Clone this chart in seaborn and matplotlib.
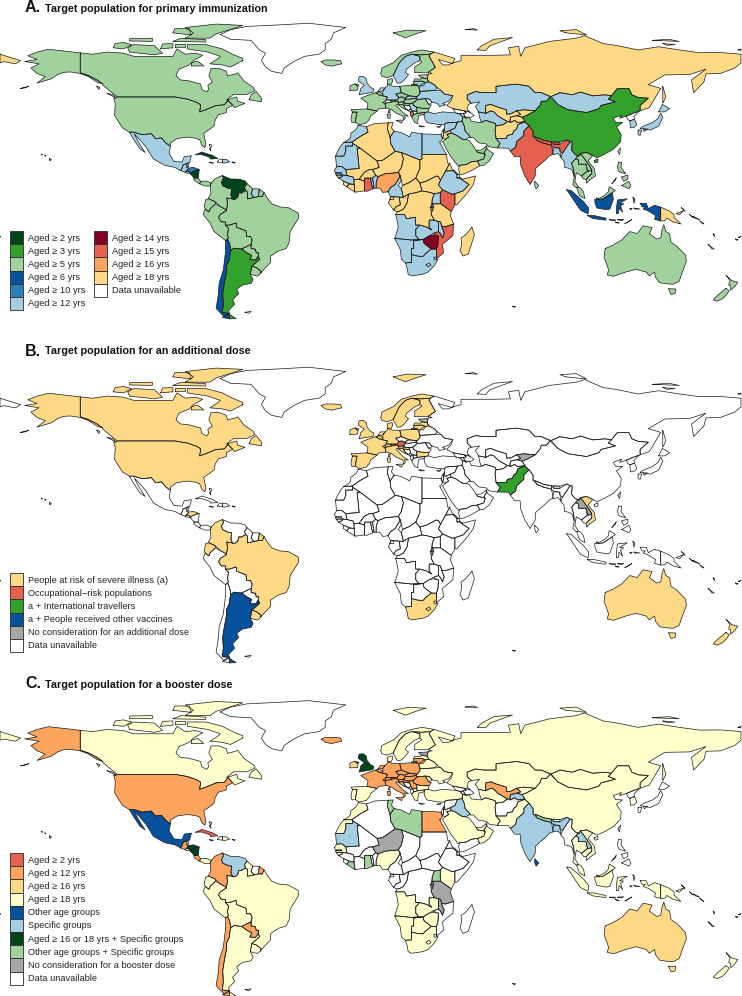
import matplotlib
matplotlib.use("Agg")
import matplotlib.pyplot as plt
from matplotlib.patches import Patch
import pandas as pd
import seaborn as sns

# country outlines, (lon, lat) rings, rough hand-read shapes
canada = [[(-141,69.6),(-135,69),(-128,70),(-120,69.5),(-115,68),(-108,68),(-102,68),(-96,68),(-94,71.5),(-90,69),(-85,69.5),(-81.5,68.5),(-86,66),(-88,64),(-93,62),(-94.5,59),(-92.5,57),(-88,56.5),(-82.5,55),(-82,52.5),(-79.5,51.3),(-78.7,52.5),(-79,54.5),(-76.8,56),(-78.5,58.8),(-77.5,62.3),(-73.5,62.3),(-70,61),(-69.5,58.8),(-65.5,59.8),(-64.5,60.3),(-61.5,56.5),(-57,53.5),(-56,52),(-60,50.2),(-66.5,50.2),(-70,47.5),(-65,49),(-64.5,47),(-61,46),(-66,44),(-67,45.2),(-69.2,47.4),(-71,45.3),(-75,45),(-79,43.4),(-83,42),(-82.5,45.3),(-84.5,46.5),(-89,48),(-95,49),(-123,49),(-125,50.5),(-130,54.5),(-130,55),(-133,57),(-137,59),(-141,60.3)],
    [(-62,66),(-68,63),(-72,64),(-78,64.5),(-74,67),(-73,68),(-79,70),(-89,71.5),(-89,73.5),(-80,73.5),(-72,71.5),(-67,69),(-62,67)],
    [(-117,70),(-105,68.7),(-101,69.5),(-105,73),(-115,73.5),(-118,72)],
    [(-125,72),(-120,71.5),(-116,73.5),(-120,74.5),(-124,74)],
    [(-90,76.5),(-78,76.5),(-75,78.5),(-65,81.5),(-62,82.5),(-75,83.1),(-90,81.5),(-86,79)],
    [(-96,75),(-80,74.7),(-80,75.8),(-92,76.5)],
    [(-96,79),(-87,78),(-88,81),(-95,81)],
    [(-117,75.2),(-106,75),(-106,76.5),(-117,76.3)],
    [(-102,71.5),(-96,72),(-96,74),(-101,73.8)],
    [(-95,72.5),(-90,72.5),(-90,74),(-95,74)],
    [(-87,63.5),(-81,63.5),(-84,65.8),(-87,65)],
    [(-59,47.7),(-53,46.7),(-53,48.5),(-55.5,51.5),(-58,50)],
    [(-128,50.7),(-123.5,48.4),(-125,50)],
    [(-133,54),(-131.5,53.5),(-132,52.5)]]
usa = [[(-124.7,48.4),(-123,49),(-95,49),(-89,48),(-84.5,46.5),(-82.5,45.3),(-83,42),(-79,43.4),(-75,45),(-71,45.3),(-69.2,47.4),(-67,45),(-70,43.5),(-70,41.7),(-74,40.6),(-75.5,38),(-76,35.5),(-78,33.9),(-81,32),(-80,27),(-80.5,25.2),(-82,26.5),(-83,29),(-85,29.7),(-89,30.2),(-94,29.5),(-97.2,27.5),(-97.2,25.9),(-99.5,27.5),(-101.5,29.8),(-104.5,29.5),(-106.5,31.8),(-111,31.3),(-114.8,32.5),(-117.1,32.5),(-120.5,34.5),(-122.5,37.5),(-124.3,40.3),(-124,46)],
    [(-141,69.6),(-148,70.4),(-156.5,71.3),(-162,70),(-166.5,68.3),(-162,66.5),(-168,65.6),(-161,64.5),(-165,62.5),(-162,60),(-158,58.5),(-162,55.5),(-155,57.5),(-152,59.5),(-149,60.5),(-146,60.7),(-141,60),(-137,58.5),(-133,56),(-130,55),(-133,57),(-137,59),(-141,60.3)],
    [(-156,20.2),(-155,19.7),(-155.7,19),(-156,19.5)],
    [(-158.2,21.6),(-157.7,21.3),(-158,21.2)],
    [(-160,22.2),(-159.3,22.1),(-159.6,21.8)],
    [(-170,53),(-166,54),(-168,53.2)]]
greenland = [[(-73,78.2),(-68,76),(-58,75.5),(-54,71),(-51,69.5),(-53,66),(-51,63),(-48,61),(-43,60),(-42,62.5),(-37,65.7),(-32,68),(-25,69),(-22,71),(-22,74),(-19,76),(-18,79),(-12,81.5),(-30,83.5),(-45,82.7),(-60,82),(-68,80.5)]]
iceland = [[(-24,65.5),(-22,64),(-19,63.4),(-14,64.5),(-14.5,66),(-18,66.3),(-22,66.3)]]
mexico = [[(-117.1,32.5),(-114.8,32.5),(-111,31.3),(-106.5,31.8),(-104.5,29.5),(-101.5,29.8),(-99.5,27.5),(-97.2,25.9),(-97.8,22.5),(-95.5,18.8),(-91.5,18.5),(-90.5,21),(-87,21.5),(-87.8,18.5),(-89.1,17.9),(-91,17.2),(-91.4,16),(-92.2,14.5),(-95,16),(-100,17),(-105.5,20),(-109,25.5),(-112.5,29.5),(-114.8,31.7),(-112.5,27.5),(-110.5,24.5),(-109.5,23),(-112,24.7),(-115,29)]]
guatemala = [[(-92.2,14.5),(-91.4,16),(-91,17.2),(-89.2,17.8),(-89.2,15.9),(-88.3,15.7),(-89.3,14.4),(-90.2,13.8)]]
belize = [[(-89.2,17.9),(-88.2,18.4),(-88.3,16.5),(-89.2,15.9)]]
el_salvador = [[(-90.1,13.8),(-89.3,14.4),(-87.8,13.9),(-87.8,13.2),(-89.5,13.4)]]
honduras = [[(-89.3,14.4),(-88.3,15.7),(-86,16),(-83.2,15),(-84.7,14.7),(-86.8,13.8),(-87.5,13),(-87.8,13.9)]]
nicaragua = [[(-87.5,13),(-86.8,13.8),(-84.7,14.7),(-83.2,15),(-83.7,11),(-85.7,11.1)]]
costa_rica = [[(-85.8,11),(-83.7,11),(-82.6,9.5),(-83,8.3),(-85.7,10)]]
panama = [[(-83,8.3),(-82.6,9.5),(-79.5,9.6),(-77.4,8.7),(-77.9,7.3),(-80.5,7.3)]]
cuba = [[(-85,21.9),(-82,23.2),(-77,21.7),(-74.2,20.2),(-77.7,19.9),(-78,20.7),(-82,22)]]
haiti = [[(-74.4,18.5),(-72,18.2),(-71.8,19.8),(-73.3,19.9)]]
dominican = [[(-71.8,19.8),(-72,18.2),(-71,18),(-68.4,18.6),(-69.9,19.7)]]
jamaica = [[(-78.3,18.4),(-76.3,18.2),(-76.8,17.8)]]
puerto_rico = [[(-67.2,18.5),(-65.7,18.4),(-66.2,17.9)]]
bahamas = [[(-78.3,26.8),(-77,26.5),(-77.7,25)],[(-78.2,25),(-77.7,24.2),(-77.5,23.8)]]
colombia = [[(-77.4,8.7),(-75.5,10.7),(-72,12.2),(-71.4,11),(-72.4,9),(-71.8,7.4),(-69,6.2),(-67.5,6),(-67.8,3),(-67,1.2),(-69.8,1.7),(-69.5,-1),(-70,-4.2),(-70.7,-3.5),(-73,-2.3),(-75.5,0),(-78.8,1.4),(-77.5,4),(-77.9,7.3)]]
venezuela = [[(-72,12.2),(-68,10.6),(-64,10.5),(-61,9.7),(-60,8.4),(-61.2,6.7),(-60.7,5.2),(-62.7,4),(-64,4.1),(-64.5,2),(-66,1),(-67,1.2),(-67.8,3),(-67.5,6),(-69,6.2),(-71.8,7.4),(-72.4,9),(-71.4,11)]]
guyana = [[(-60,8.4),(-57.2,6),(-58,3.5),(-56.5,1.9),(-59.8,1.3),(-59.8,4.5),(-60.7,5.2),(-61.2,6.7)]]
suriname = [[(-57.2,6),(-54,5.9),(-54.5,2.4),(-56.5,1.9),(-58,3.5)]]
fr_guiana = [[(-54,5.9),(-51.7,4.2),(-52.7,2.3),(-54.5,2.4)]]
brazil = [[(-51.7,4.2),(-50,1.5),(-48,-1),(-44,-2.5),(-40,-2.8),(-35.2,-5.3),(-34.8,-7.5),(-37,-11),(-39,-14),(-39.5,-19),(-41,-22),(-44.5,-23),(-48.5,-25.5),(-48.6,-28.5),(-52,-32),(-53.4,-33.7),(-53.2,-32.5),(-55.5,-30.9),(-57.6,-30.2),(-53.8,-27),(-54.6,-25.6),(-54.3,-24),(-55.5,-24),(-55.9,-22.3),(-58,-22),(-58,-20),(-57.5,-18),(-58.3,-16.3),(-60.2,-16.3),(-60.5,-13.7),(-65,-12),(-65.3,-10),(-68.5,-11),(-70.5,-11),(-70.5,-9.5),(-72.5,-9.5),(-73.8,-7.5),(-73,-6),(-70,-4.2),(-69.5,-1),(-69.8,1.7),(-67,1.2),(-66,1),(-64.5,2),(-64,4.1),(-62.7,4),(-60.7,5.2),(-59.8,4.5),(-59.8,1.3),(-56.5,1.9),(-54.5,2.4),(-52.7,2.3)]]
ecuador = [[(-80,0.8),(-78.8,1.4),(-75.5,0),(-75.3,-1),(-78,-3.5),(-78.5,-4.8),(-80.3,-3.5),(-80.8,-2)]]
peru = [[(-80.3,-3.5),(-78.5,-4.8),(-78,-3.5),(-75.3,-1),(-73,-2.3),(-70.7,-3.5),(-70,-4.2),(-73,-6),(-73.8,-7.5),(-72.5,-9.5),(-70.5,-9.5),(-70.6,-11),(-69,-12.5),(-69.5,-15.5),(-69,-17),(-69.5,-17.5),(-70.4,-18.3),(-76,-14),(-78,-10),(-81.3,-6)]]
bolivia = [[(-69.5,-15.5),(-69,-12.5),(-70.5,-11),(-68.5,-11),(-65.3,-10),(-65,-12),(-60.5,-13.7),(-60.2,-16.3),(-58.3,-16.3),(-57.5,-18),(-58,-20),(-62.6,-22.2),(-64.5,-22),(-66.3,-21.8),(-67.8,-22.8),(-68.5,-19.5),(-69.5,-17.5),(-69,-17)]]
paraguay = [[(-58,-20),(-58,-22),(-55.9,-22.3),(-55.5,-24),(-54.3,-24),(-54.6,-25.6),(-55.8,-27.3),(-58.6,-27.2),(-57.7,-25.2),(-60,-24),(-62.6,-22.2)]]
uruguay = [[(-57.6,-30.2),(-55.5,-30.9),(-53.2,-32.5),(-53.4,-33.7),(-55,-34.9),(-58.4,-34),(-58,-32)]]
argentina = [[(-66.3,-21.8),(-64.5,-22),(-62.6,-22.2),(-60,-24),(-57.7,-25.2),(-58.6,-27.2),(-55.8,-27.3),(-54.6,-25.6),(-53.8,-27),(-57.6,-30.2),(-58,-32),(-58.4,-34),(-57,-36.5),(-58,-38.3),(-62,-39),(-65,-41),(-64,-43),(-67,-46),(-66,-48),(-69,-51),(-68.5,-52.3),(-72,-52),(-71.5,-48),(-71.8,-43),(-71,-38),(-70,-33),(-70,-30),(-68.5,-27),(-68.3,-24.5),(-67.8,-22.8)],
    [(-68.6,-52.7),(-65.3,-54.8),(-68.6,-54.9)]]
chile = [[(-69.5,-17.5),(-68.5,-19.5),(-67.8,-22.8),(-68.3,-24.5),(-68.5,-27),(-70,-30),(-70,-33),(-71,-38),(-71.8,-43),(-71.5,-48),(-72,-52),(-68.5,-52.3),(-71,-54),(-75,-50),(-74,-44),(-73.5,-38),(-71.5,-32),(-70.5,-24),(-70.4,-18.3)],
    [(-68.6,-52.7),(-68.6,-54.9),(-72,-54.2),(-70,-53)]]
falklands = [[(-61,-51.8),(-58,-51.4),(-59,-52.3)]]
uk = [[(-5.5,50.1),(1.2,51.2),(1.7,52.7),(0,53.5),(-1.7,55.5),(-2,57.5),(-3.5,58.6),(-5.5,58.5),(-6,56.5),(-3,54.5),(-4.8,52.8),(-5,51.7)],
    [(-7.5,55),(-5.6,54.6),(-6.3,54)]]
ireland = [[(-10,52),(-6.3,52.2),(-6,53.8),(-7.5,55.2),(-10,54.2)]]
france = [[(-1.7,43.4),(3.2,42.4),(4,43.4),(7.5,43.7),(7,46),(8.2,49),(4.2,50),(2.5,51),(-1.5,49.7),(-4.7,48.4),(-1.2,46)],
    [(8.7,41.9),(9.5,41.5),(9.5,43),(8.7,42.5)]]
spain = [[(-9.3,43),(-1.7,43.4),(3.2,42.4),(0,40),(-0.5,38.5),(-2,36.8),(-5.5,36),(-7.4,37.2),(-7,39.5),(-6.5,41.9),(-8.8,41.9)]]
portugal = [[(-8.8,41.9),(-6.5,41.9),(-7,39.5),(-7.4,37.2),(-9,37),(-9.5,38.8)]]
belgium = [[(2.5,51),(4.2,51.4),(6,50.5),(5.8,49.5),(4.2,50)]]
netherlands = [[(3.5,51.4),(6,51.8),(7.1,53.2),(5,53.3)]]
germany = [[(6,50.5),(6,51.8),(7.1,53.2),(8.8,54.8),(11,54),(14.2,54),(15,51),(12.3,50.3),(13.8,48.7),(13,47.5),(7.6,47.6),(8.2,49),(6,49.5)]]
denmark = [[(8.2,55),(10,54.9),(10.8,56.3),(10.5,57.7),(8.2,57)]]
switzerland = [[(6,46.3),(7,46),(10.4,46.7),(9.6,47.5),(7.6,47.6)]]
austria = [[(9.6,47.5),(10.4,46.9),(12.3,47),(14,46.5),(16.2,46.9),(17,48),(15,49),(13.8,48.7),(13,47.6)]]
italy = [[(7,46),(7.5,43.9),(10.3,43),(12.5,41.4),(15.8,40),(16,38),(17,39),(16.5,40.2),(18.4,40),(16,41.5),(13.5,44),(12.4,45.3),(13.7,45.6),(13.7,46.5),(12.3,47),(10.4,46.7)],
    [(12.5,38),(15.5,38.2),(15.2,36.7)],
    [(8.2,41),(9.7,41),(9.5,39),(8.5,39)]]
poland = [[(14.2,54),(19,54.4),(23,54.3),(24,52),(24,50.5),(22.6,49.1),(19,49.4),(15,51)]]
czechia = [[(12.3,50.3),(15,51),(18.8,49.6),(17,48.7),(15,49),(13.8,48.7)]]
slovakia = [[(17,48),(17,48.7),(18.8,49.6),(22.6,49.1),(22,48.4),(18.8,47.9)]]
hungary = [[(16.2,46.9),(17,48),(18.8,47.9),(22,48.4),(22.9,47.9),(21,46.2),(18.8,45.9),(17,46)]]
slovenia = [[(13.7,45.6),(15.5,45.6),(16.4,46.6),(14,46.5),(13.7,46.5)]]
croatia = [[(13.7,45.2),(15.5,43.8),(18.4,42.6),(17,43.5),(15.9,45.2),(19,45),(18.8,45.9),(17,46),(15.5,45.6)]]
bosnia = [[(15.9,45.2),(17,43.5),(18.4,42.6),(19.5,43.5),(19,45)]]
serbia = [[(19,45),(19.5,43.5),(20,42.7),(22.5,42.3),(22.5,44.2),(21,45),(20.3,46.1),(18.8,45.9)]]
montenegro = [[(18.5,42.5),(19.3,41.9),(20,42.7),(19.5,43.5)]]
albania = [[(19.3,41.9),(20.5,42.2),(21,40.8),(20,39.7),(19.4,40.5)]]
macedonia = [[(20.5,42.2),(22.5,42.3),(22.8,41.3),(21,40.8)]]
greece = [[(21,40.8),(22.8,41.3),(26.3,41.7),(26,40.8),(23.5,40.3),(23,38),(23,36.5),(21.5,37),(20,39.7)],
    [(23.5,35.5),(26.3,35.2),(24.7,34.9)]]
bulgaria = [[(22.5,42.3),(22.8,41.3),(26.3,41.7),(28,42),(28.5,43.6),(25,43.7),(22.5,44.2)]]
romania = [[(20.3,46.1),(21,45),(22.5,44.2),(25,43.7),(28.5,43.7),(29.6,45.2),(28.2,45.5),(26.6,48.2),(24,47.9),(22.9,47.9)]]
moldova = [[(26.6,48.2),(28.2,45.5),(30,46.4),(28.5,48)]]
ukraine = [[(22,48.4),(22.6,49.1),(24,50.5),(24,51.6),(31,52),(34,52.2),(36,50.3),(40,49.6),(38,47),(35,46),(36.5,45.3),(33.5,44.5),(32.5,46),(30,46.4),(28.5,48),(26.6,48.2),(24,47.9),(22.9,47.9)]]
belarus = [[(24,52),(23.5,53.9),(26,55.7),(28.5,56),(31,54.7),(32.5,53.2),(31,52),(24,51.6)]]
lithuania = [[(21,55.3),(21,56.3),(25,56.4),(26.8,55.7),(25.7,54.2),(23.5,54),(22.8,54.4)]]
latvia = [[(21,56.3),(21.5,57.5),(24.3,57.3),(25,58),(27.5,57.5),(28.2,56.2),(26.8,55.7),(25,56.4)]]
estonia = [[(23.5,59.2),(28,59.5),(27.5,57.5),(25,58),(24.3,58.2)]]
norway = [[(5,60),(5.5,62.5),(11,65),(15,68.5),(20,70),(25,71),(31,70),(29,69),(25,68.7),(20,69),(17,68),(14,65),(12,61),(11,59),(8,58),(5.5,58.7)],
    [(11,79),(17,76.7),(22,78.5),(27,80),(18,80.3)]]
sweden = [[(11,59),(12,61),(14,65),(17,68),(20,69),(24,68),(24,66),(21.5,65),(17.5,62),(17,60.5),(18.5,59.5),(16.5,57),(14.5,55.5),(13,55.5)]]
finland = [[(21.5,60.5),(21.5,63),(25,65.3),(24,66),(24,68),(20.5,69),(25,68.7),(29,69),(28.5,68),(30,65.5),(31.5,62.8),(28,60.5)]]
russia = [[(28,59.7),(30,60),(28,60.5),(31.5,62.8),(30,65.5),(28.5,68),(29,69),(31,70),(41,67),(40,64.6),(33,66.5),(35,64),(38,64),(40,65),(44,66),(44,68.5),(54,68.5),(60,68.5),(68,68.7),(67,72),(72,72.7),(73,68),(75,72),(81,73.5),(87,75),(100,76.5),(104,77.7),(113,74),(120,73),(130,71),(140,72.5),(150,71),(160,69.7),(170,69.8),(180,69),(180,65),(177,62.5),(170,60),(163,59.8),(162,56),(157,51),(156,57),(163,62),(155,59.5),(143,59.3),(135,54.7),(141,53),(135.5,44),(131,42.5),(131,45),(135,48.4),(130,48.8),(127,50),(125.5,53),(120,53),(117,49.5),(114,50),(108,49.5),(102,51.3),(98,50),(92,51),(87.8,49.2),(83,51),(80,51),(77,54),(71,55),(61,54),(61,51),(55,51),(51,51.5),(47,50),(47,48),(49,46),(47.5,45.5),(47,43),(48.5,41.8),(45.5,42.5),(40,43.5),(37,45),(39,47),(40,49.6),(36,50.3),(34,52.2),(32.5,53.2),(31,54.7),(28.5,56),(27.5,57.5)],
    [(-180,69),(-175,67.5),(-170,66),(-172.5,64.5),(-178,65.5),(-180,65)],
    [(52,71),(56,70.8),(58,73),(69,76.8),(60,76),(54,73)],
    [(46,80.5),(52,80.3),(50,81)],
    [(95,79),(105,78),(100,80.5),(92,80)],
    [(137,75.5),(150,75),(145,76)],
    [(142,74),(148,73.5),(144,73.2)],
    [(142,54),(143.5,49),(142,46),(142,50)],
    [(178.5,71),(180,71.5),(180,70.8)],
    [(20,54.8),(22.8,55),(22.5,54.4),(19.8,54.4)]]
kazakhstan = [[(47,50),(51,51.5),(55,51),(61,51),(61,54),(71,55),(77,54),(80,51),(83,51),(87.3,49),(85.5,47),(83,47),(82.5,45.3),(80,42.5),(74.5,43),(71,42.5),(68,41),(66,41),(66,43),(61,44.5),(58.5,45.5),(56,45),(56,41.3),(52.5,42),(51,44.5),(53,46.7),(49,46),(47,48)]]
turkmenistan = [[(52.5,42),(56,41.3),(58.5,42.5),(60,42),(62,40),(66.5,37.5),(64.5,36),(61,35.5),(60.5,36.7),(56,38),(53.8,37.2),(53,39.5)]]
uzbekistan = [[(56,41.3),(56,45),(58.5,45.5),(61,44.5),(66,43),(66,41),(68,41),(71,42.5),(73,40.8),(71,40.2),(68,39.5),(67.5,37.3),(66.5,37.5),(62,40),(60,42),(58.5,42.5)]]
kyrgyzstan = [[(71,42.5),(74.5,43),(80,42.5),(76,40.4),(73.7,39.5),(71,40.2),(73,40.8)]]
tajikistan = [[(68,39.5),(71,40.2),(73.7,39.5),(75,37.5),(71.5,37),(70,38),(68,37)]]
afghanistan = [[(61,35.5),(64.5,36),(66.5,37.5),(68,37),(70,38),(71.5,37),(75,37.3),(71.5,36),(71,34),(69.5,33),(69,31.5),(66.5,31),(66,29.5),(61,29.5),(60.8,31.5),(60.5,33.5)]]
pakistan = [[(61,29.5),(66,29.5),(66.5,31),(69,31.5),(69.5,33),(71,34),(71.5,36),(75,37.3),(77,35.5),(74.5,33),(74.5,31),(71,28),(70.5,25.5),(68,23.7),(67,25),(61.6,25.1),(63,27.2)]]
india = [[(68,23.7),(70.5,25.5),(71,28),(74.5,31),(74.5,33),(77,35.5),(79,33),(79,30.5),(81,28.5),(84,27.5),(88,26.4),(88,28),(89,26.8),(92,26.8),(95.5,28.9),(97,28),(94.5,24.5),(93.2,22.5),(92,24),(92,25),(89,25.2),(88.5,22),(87,21.5),(85,19.5),(80.2,15.5),(80,12),(77.5,8),(75,12),(73,17),(72.7,21),(70,21),(69,22.3)]]
nepal = [[(80,30.3),(81,30),(84,28.7),(88,28),(88,26.4),(84,27.3),(81,28.6)]]
bhutan = [[(89,27),(89,28),(92,27.8),(92,26.8)]]
bangladesh = [[(88,26.2),(89,25.5),(92,25),(92,24),(92.5,21),(91,22.5),(88.8,22)]]
sri_lanka = [[(79.8,9.5),(81.8,7.5),(80.5,6),(79.8,7.5)]]
china = [[(73.7,39.5),(76,40.4),(80,42.5),(82.5,45.3),(83,47),(85.5,47),(87.3,49),(91,45.5),(96,43),(105,41.7),(111,43.5),(112,45),(119,46.7),(115.5,48),(117,49.5),(120,53),(125.5,53),(127,50),(130,48.8),(135,48.4),(131,45),(131,42.5),(128,41.5),(124.3,40),(121,39),(122,40.5),(118,39),(119,37.2),(122.5,37),(119.5,35),(121.8,31.5),(121.5,28),(118,24.5),(114,22.3),(110,20.5),(108,21.6),(105,23),(102,22.5),(101.5,21.2),(99.5,22),(97.7,24),(98,28),(97,28),(95.5,28.9),(92,27.8),(89,28),(88,28),(84,28.7),(81,30),(79,30.5),(79,33),(77,35.5),(75,37.3),(75,37.5)],
    [(108.7,19.3),(110.5,20),(110.5,18.5),(109,18.2)]]
taiwan = [[(120.2,23.5),(121.5,25.2),(121,22)]]
mongolia = [[(87.8,49.2),(92,51),(98,50),(102,51.3),(108,49.5),(114,50),(117,49.5),(115.5,48),(119,46.7),(112,45),(111,43.5),(105,41.7),(96,43),(91,45.5)]]
north_korea = [[(124.3,40),(128,41.5),(130.6,42.4),(128,39.8),(128.3,38.6),(126,37.8),(125,38.5)]]
south_korea = [[(126,37.8),(128.3,38.6),(129.4,36),(128,34.7),(126.3,34.5)]]
japan = [[(131,34.3),(136,33.5),(140,35.3),(142,39.5),(141,41.4),(139.8,39),(137,37),(133,35.5)],
    [(140,42),(141.8,45.5),(145.3,43.5),(143,42)],
    [(130,33.5),(131.8,33.5),(131,31),(130,31.3)],
    [(132.5,34),(134.7,34),(133,32.9)]]
myanmar = [[(92.5,20.5),(93.2,22.5),(94.5,24.5),(97,28),(98,28),(97.7,24),(99.5,22),(101,21.5),(99.5,20),(97.7,18),(98.7,15),(99,11.5),(97.8,15),(95.5,15.8),(94.3,16),(94,19)]]
thailand = [[(98.7,15),(97.7,18),(99.5,20),(101,19.5),(101,17.5),(104.7,17.5),(105.5,14.5),(102.5,12),(101,13),(100,13.5),(99.3,9.5),(101,6.8),(100,6.5),(98.3,8),(99,11.5)]]
laos = [[(101,21.5),(102,22.5),(104,20),(106.5,16.5),(107.5,15),(105.5,14),(105,15.5),(104.7,17.5),(101,17.5),(101,19.5),(99.8,20.5)]]
vietnam = [[(102,22.5),(105,23),(108,21.6),(105.7,19),(108.7,15.5),(109.3,12),(106.7,10.3),(105,8.6),(104.8,10.4),(106,11.7),(107.5,13),(107.5,15),(106.5,16.5),(104,20)]]
cambodia = [[(102.5,12),(105.5,14.3),(107.5,14.5),(107.5,13),(106,11.7),(104.8,10.4),(103.5,10.6)]]
malaysia = [[(100.2,6.5),(101,6.8),(102.2,6.2),(103.5,4.5),(104.2,1.4),(101.5,2.8)],
    [(109.7,1.7),(111,1.5),(114,3),(115.5,4.5),(116,7),(119,5.2),(117.5,4.2),(115,2.5),(113,1.3),(111,1)]]
indonesia = [[(95.3,5.6),(97.5,5.2),(103.5,0),(106,-3),(105.7,-5.8),(102,-4),(98.5,1)],
    [(105.3,-6.5),(108.5,-6.5),(114.5,-7.8),(114.3,-8.7),(108,-7.9)],
    [(109,1),(111,1),(113,1.3),(115,2.5),(117.5,4.2),(118,1),(116.3,-3.5),(114.5,-3.8),(110,-3),(109,-0.5)],
    [(119.5,-5.5),(119.5,-3),(120,0.8),(124.8,1.3),(121,-0.8),(123,-1),(121.5,-2),(122.5,-5),(120.8,-3),(120.5,-5.5)],
    [(131,-0.8),(134,-0.8),(135,-3.3),(138,-1.7),(141,-2.6),(141,-9.1),(138,-8.3),(138.5,-6.5),(135,-4.4),(132.5,-3.5),(133.5,-2.5),(132,-2.5)],
    [(116,-8.5),(119,-8.5),(119,-9)],
    [(120,-8.5),(123,-8.3),(122,-8.9)],
    [(119,-9.6),(120.8,-10),(119.5,-10)],
    [(123.6,-10.3),(127,-8.4),(125,-9.6)],
    [(128,-3),(131,-3.5),(128.5,-3.5)],
    [(127.5,2),(128.5,1),(128,-0.8),(127.8,0.5)],
    [(126,-3.2),(127.2,-3.3),(126.5,-3.8)]]
png = [[(141,-2.6),(145,-4.3),(147.5,-6),(147.5,-7.5),(150.8,-10.5),(147,-9.5),(144,-7.7),(143,-9),(141,-9.1)],
    [(148.5,-5.6),(152.2,-4.2),(150,-6.2)],
    [(151,-2.8),(152.8,-4.5),(152,-3.5)]]
philippines = [[(120.5,18.5),(122,18.4),(121.7,16),(124,13),(120.7,14),(120,16)],
    [(122,7.5),(125.5,9.5),(126.5,7.5),(125.5,6),(124,6.7)],
    [(122,11.5),(125,12.5),(125,10.5),(123,9.5)],
    [(117.3,8.5),(119.5,11.3),(119,10)]]
australia = [[(114,-22),(113.5,-26),(115.7,-32),(115,-34.3),(118,-35),(124,-33),(129,-31.7),(134,-33),(135.5,-34.8),(138,-33),(138.5,-35.5),(140.5,-38),(144,-38.5),(147,-38.7),(150,-37.3),(151.5,-33),(153.5,-28),(153,-25),(149,-21),(146,-19),(145.3,-15),(143.5,-14),(142.5,-10.8),(141.7,-13),(141,-17),(139,-17.5),(135.5,-15),(136.8,-12.2),(132.5,-11.3),(129.5,-15),(126,-14),(122,-18),(118,-20.3)],
    [(144.8,-40.8),(148.3,-40.9),(148,-43),(146,-43.5)]]
new_zealand = [[(172.8,-34.5),(175.5,-37),(178.5,-37.7),(176.8,-40),(175,-41.5),(175,-39.5),(174,-39),(174.7,-37)],
    [(172.7,-40.6),(174.3,-41.7),(172.8,-43.8),(171,-45.5),(168.5,-46.6),(166.5,-46),(168.5,-44)]]
solomon = [[(155,-6),(157,-7.5),(156,-7)],[(157,-7),(160,-8.5),(158,-8)],[(160,-9),(162,-10.5),(161,-10)]]
vanuatu = [[(166.5,-15),(167.2,-15.6),(167,-16.5)]]
new_caledonia = [[(164,-20),(167,-22.3),(166,-22.2)]]
fiji = [[(177.3,-17.5),(178.6,-17.7),(178,-18.2)],[(178.8,-16.7),(180,-16.2),(179.3,-16.8)],[(-180,-16.2),(-179.6,-16.4),(-180,-16.6)]]
kerguelen = [[(69,-49),(70.5,-49),(70,-49.6)]]
madagascar = [[(49.3,-12),(50.5,-15.5),(47.5,-24.5),(45,-25.5),(43.5,-23),(44.3,-20),(44,-17),(46,-15.8),(48,-13.5)]]
turkey = [[(26,40.2),(26.3,41.7),(28,42),(31,41.2),(35,42),(41.5,41.5),(43.5,41),(44.8,39.7),(44.5,37.7),(42.3,37.2),(36.7,36.8),(36,36),(32.5,36.1),(30.5,36.5),(27.5,37),(26.5,38.5)]]
syria = [[(36,36),(36.7,36.8),(42.3,37.2),(41,34.4),(38.8,33.4),(36.5,32.4),(35.8,33.5)]]
lebanon = [[(35.1,33.1),(36,34.5),(35.8,33.5),(35.9,33.3)]]
israel = [[(34.3,31.3),(35.1,33.1),(35.6,33),(35.5,31),(35,29.5)]]
jordan = [[(35,29.5),(35.5,31),(35.6,32.6),(36.5,32.4),(38.8,33.4),(39.2,32),(37,31.5),(38,30.3),(36.5,29.3)]]
iraq = [[(38.8,33.4),(41,34.4),(42.3,37.2),(44.5,37.7),(45.5,35.5),(46,33),(48,31),(48.5,30),(47.7,30),(46.5,29.1),(44.7,29.2),(41,31.5),(39.2,32)]]
iran = [[(44.5,37.7),(44.8,39.7),(48,39.5),(49,37.5),(53.8,37),(56,38),(60.5,36.7),(61,35.5),(60.5,33.5),(60.8,31.5),(61,29.5),(63,27.2),(61.6,25.1),(57.5,25.7),(56.3,27),(52.5,27.5),(50,30),(48.5,30),(48,31),(46,33),(45.5,35.5)]]
saudi = [[(36.5,29.3),(38,30.3),(37,31.5),(39.2,32),(41,31.5),(44.7,29.2),(46.5,29.1),(48,28.5),(50,26),(50.8,24.8),(52,23),(55,22.5),(55.7,22),(55,20),(52,19),(49,18.6),(46.5,17.3),(43.3,17),(42.7,16.5),(39,21),(37,24.5),(35,28)]]
yemen = [[(43.3,17),(46.5,17.3),(49,18.6),(52,19),(53,16.7),(48,14),(45,12.8),(43.5,12.7),(42.8,15)]]
oman = [[(52,19),(55,20),(55.7,22),(55.2,23),(56.3,24.8),(56.4,26.3),(56.7,24.5),(59.8,22.5),(57.7,19),(55,17),(53,16.7)]]
uae = [[(51.5,24),(52,23),(55,22.5),(55.7,22),(55.2,23),(56.3,24.8),(56.2,26),(54,24.2)]]
georgia = [[(40,43.5),(45.5,42.5),(46.5,41.5),(43.5,41),(41.5,41.5)]]
armenia = [[(43.5,41),(45,41.2),(46.5,39),(44.8,39.7)]]
azerbaijan = [[(45,41.2),(46.5,41.5),(45.5,42.5),(48.5,41.8),(50.3,40.3),(49,39.5),(48,39.5),(46.5,39)]]
cyprus = [[(32.3,35),(34.5,35.6),(33.5,34.7)]]
morocco = [[(-5.9,35.8),(-2,35.1),(-1.2,32.5),(-5,30.5),(-8.7,28),(-13,27.7),(-11,28.8),(-9.7,30),(-9.5,32),(-7,33.8)]]
w_sahara = [[(-13,27.7),(-8.7,27.7),(-8.7,26),(-12,26),(-12,23.4),(-13,21.3),(-17,21.3),(-16,23.5),(-14.5,26)]]
algeria = [[(-2,35.1),(2,36.5),(8.6,36.9),(8.2,34),(9.5,30.2),(9.9,27),(12,23.5),(6,19.4),(3.2,19),(-5,25),(-8.7,27.3),(-8.7,28),(-5,30.5),(-1.2,32.5)]]
tunisia = [[(8.6,36.9),(11,37),(10.2,34.5),(11.5,33),(9.5,30.2),(8.2,34)]]
libya = [[(11.5,33),(15,32.3),(19,30.3),(20,32.5),(25,31.7),(25,20),(24,19.5),(15,23),(12,23.5),(9.9,27),(9.5,30.2)]]
egypt = [[(25,31.7),(31,31.5),(34.3,31.3),(35,29.5),(34,27.8),(33.5,28),(36.9,22),(25,22)]]
mauritania = [[(-17,21.3),(-13,21.3),(-12,23.4),(-12,26),(-8.7,26),(-8.7,27.3),(-5,25),(-6.5,25),(-5.5,15.5),(-12,15),(-14,16.5),(-16.5,16.3)]]
mali = [[(-12,15),(-5.5,15.5),(-6.5,25),(-5,25),(3.2,19),(4.2,16),(1,15),(-0.5,15),(-3,13.7),(-5.5,10.5),(-8,10.3),(-8.5,11.5),(-11.4,12.2)]]
senegal = [[(-17.5,14.7),(-16.5,16.3),(-14,16.5),(-12,15),(-11.4,12.2),(-16.7,12.4)]]
gambia = [[(-16.8,13.6),(-14,13.7),(-14,13.2),(-16.8,13.2)]]
guinea_bissau = [[(-16.7,12.4),(-13.7,12.6),(-13.7,11.7),(-15.5,11)]]
guinea = [[(-15.5,11),(-13.7,11.7),(-13.7,12.6),(-11.4,12.2),(-8.5,11.5),(-8,10.3),(-8,8),(-10.5,8.5),(-13,9.5)]]
sierra_leone = [[(-13,9.5),(-10.5,8.5),(-10.7,8),(-11.5,6.9),(-13.2,8)]]
liberia = [[(-11.5,6.9),(-10.7,8),(-8,8),(-7.5,4.4)]]
ivory_coast = [[(-8,8),(-8,10.3),(-5.5,10.5),(-2.8,9.5),(-3,5),(-7.5,4.4)]]
ghana = [[(-3,5),(-2.8,11),(0,11),(0.5,8),(1.2,6),(-1.8,4.8)]]
togo = [[(0,11),(1,11),(1.7,6.2),(1.2,6),(0.5,8)]]
benin = [[(1,11),(2.5,12.3),(3.7,11.7),(2.8,9),(2.7,6.3),(1.7,6.2)]]
burkina = [[(-5.5,10.5),(-3,13.7),(-0.5,15),(1,15),(2.5,12.3),(1,11),(-2.8,11),(-2.8,9.5)]]
niger = [[(1,15),(4.2,16),(3.2,19),(6,19.4),(12,23.5),(15,23),(16,20),(15,16),(13.5,13.6),(10,13.3),(7,13),(3.7,11.7),(2.5,12.3)]]
nigeria = [[(2.7,6.3),(2.8,9),(3.7,11.7),(7,13),(10,13.3),(13.5,13.6),(14.5,12),(12,8),(9.7,6.5),(8.5,4.6),(6,4.3),(4.5,6.3)]]
cameroon = [[(8.5,4.6),(9.7,6.5),(12,8),(14.5,12),(14,13),(15,10),(13.5,7.5),(15,6),(16,2),(13,2.2),(9.8,2.3)]]
chad = [[(13.5,13.6),(15,16),(16,20),(15,23),(24,19.5),(24,15.5),(22,11),(19,9),(15.5,7.5),(15,10),(14,13)]]
sudan = [[(24,19.5),(25,20),(25,22),(36.9,22),(37.5,18),(38.5,18),(36.5,14.3),(34,10),(33,11.7),(32,12),(27,9.5),(24,8.7),(22,11),(24,15.5)]]
south_sudan = [[(24,8.7),(27,9.5),(32,12),(33,11.7),(34,10),(33,7.8),(35,5.5),(33.9,4.2),(31,3.7),(28,4.5),(25,5)]]
eritrea = [[(36.5,14.3),(38.5,18),(39.5,15.5),(43,12.5),(40,14.5)]]
djibouti = [[(42,12.7),(43.2,12.5),(43.3,11.5),(42,11)]]
ethiopia = [[(34,10),(36.5,14.3),(40,14.5),(42,12.7),(42,11),(43.3,11),(47.9,8),(45,5),(42,4),(39.5,3.5),(35,5.5),(33,7.8)]]
somalia = [[(43.3,11.5),(44.5,10.5),(51,12),(50,8),(47,4),(42,-1.5),(41,-1.5),(41,3.5),(42,4),(45,5),(47.9,8),(43.3,11)]]
kenya = [[(33.9,0.5),(33.9,4.2),(35,5.5),(39.5,3.5),(41,3.5),(41,-1.5),(39.3,-4.6),(34,-1)]]
uganda = [[(30,-1.2),(30,1),(31,3.7),(33.9,4.2),(33.9,0.5),(34,-1)]]
rwanda = [[(29,-2.7),(30,-1.2),(30.8,-2.3),(30,-2.8)]]
burundi = [[(29,-2.7),(30.5,-2.5),(30.3,-4.3),(29.5,-4.3)]]
tanzania = [[(30,-1),(34,-1),(39.3,-4.6),(38.8,-6.5),(40.4,-10.5),(36.5,-11.7),(34.7,-11.5),(34,-9.5),(31,-8.7),(29.5,-6),(30.5,-2.5)]]
drc = [[(12.2,-6),(13,-4.7),(14,-4.5),(16,-3.5),(17.8,-0.5),(18.5,3.5),(22,4.2),(25,5),(28,4.5),(31,3.7),(30,1),(29.5,-2.5),(29.5,-6),(31,-8.7),(28.7,-8.5),(28.5,-9),(28.5,-12),(29.8,-13.3),(27,-11.8),(23.9,-11),(22,-11),(21.8,-7.3),(17.5,-8),(16.5,-6)]]
congo = [[(11.2,-4),(13,-4.7),(14,-4.5),(16,-3.5),(17.8,-0.5),(18.5,3.5),(16,2),(14,2),(14.5,-1.5),(12.5,-2.3)]]
gabon = [[(8.8,-0.7),(9.8,2.3),(13,2.2),(14,2),(14.5,-1.5),(12.5,-2.3),(11.2,-4)]]
eq_guinea = [[(9.5,1),(11.3,1),(11.3,2.2),(9.8,2.3)]]
car = [[(15,6),(15.5,7.5),(19,9),(22,11),(24,8.7),(25,5),(22,4.2),(18.5,3.5),(16,2)]]
angola = [[(11.8,-17.3),(13.5,-12),(13,-9),(12.2,-6),(16.5,-6),(17.5,-8),(21.8,-7.3),(22,-11),(23.9,-11),(22,-13),(22,-16),(23.4,-17.6),(20,-18),(14,-17.4)]]
zambia = [[(22,-13),(23.9,-11),(27,-11.8),(29.8,-13.3),(28.5,-12),(28.5,-9),(31,-8.7),(33,-9.4),(33,-14),(30.3,-15),(28.5,-16),(25.5,-17.8),(23.4,-17.6),(22,-16)]]
malawi = [[(33,-9.4),(34,-9.5),(34.7,-12),(35.8,-14.5),(35,-17),(34,-15),(33,-14)]]
mozambique = [[(40.4,-10.5),(36.5,-11.7),(34.7,-11.5),(34.7,-12),(35.8,-14.5),(35,-17),(34,-15),(33,-14),(30.3,-15),(33,-16),(32.8,-20),(32,-22.3),(32,-26.8),(33,-26),(35.5,-24),(35,-20),(40,-16)]]
zimbabwe = [[(25.5,-17.8),(28.5,-16),(30.3,-15.6),(33,-16),(32.8,-20),(32,-22.3),(29.5,-22.2),(26,-19.5)]]
namibia = [[(11.8,-17.3),(14,-17.4),(20,-18),(25,-17.8),(23.4,-18),(21,-18.3),(21,-22),(20,-22),(20,-28.5),(17,-28.7),(15,-27),(14.5,-22.5)]]
botswana = [[(21,-18.3),(23.4,-18),(25.5,-17.8),(26,-19.5),(29.5,-22.2),(26.5,-24.6),(25.5,-25.7),(22.8,-25.5),(20,-24.8),(20,-22),(21,-22)]]
south_africa = [[(17,-28.7),(20,-28.5),(20,-24.8),(22.8,-25.5),(25.5,-25.7),(26.5,-24.6),(29.5,-22.2),(32,-22.3),(32,-26.8),(32.8,-27),(31,-30),(28,-33),(25.5,-34),(20,-34.8),(18.3,-34),(18,-32)]]
lesotho = [[(27,-29.6),(28.5,-28.7),(29.4,-29.7),(28,-30.6)]]
eswatini = [[(30.8,-26),(32,-26),(32,-27.2),(31,-27.3)]]

shapes = {"Canada": canada, "USA": usa, "Greenland": greenland, "Iceland": iceland, "Mexico": mexico, "Guatemala": guatemala, "Belize": belize, "El Salvador": el_salvador, "Honduras": honduras, "Nicaragua": nicaragua, "Costa Rica": costa_rica, "Panama": panama, "Cuba": cuba, "Haiti": haiti, "Dominican Rep": dominican, "Jamaica": jamaica, "Puerto Rico": puerto_rico, "Bahamas": bahamas, "Colombia": colombia, "Venezuela": venezuela, "Guyana": guyana, "Suriname": suriname, "French Guiana": fr_guiana, "Brazil": brazil, "Ecuador": ecuador, "Peru": peru, "Bolivia": bolivia, "Paraguay": paraguay, "Uruguay": uruguay, "Argentina": argentina, "Chile": chile, "Falklands": falklands,
    "Russia": russia, "UK": uk, "Ireland": ireland, "France": france, "Spain": spain, "Portugal": portugal, "Germany": germany, "Belgium": belgium, "Netherlands": netherlands, "Denmark": denmark, "Switzerland": switzerland, "Italy": italy, "Poland": poland, "Czechia": czechia, "Austria": austria, "Slovakia": slovakia, "Hungary": hungary, "Slovenia": slovenia, "Croatia": croatia, "Bosnia": bosnia, "Serbia": serbia, "Montenegro": montenegro, "Albania": albania, "Macedonia": macedonia, "Greece": greece, "Bulgaria": bulgaria, "Romania": romania, "Ukraine": ukraine, "Moldova": moldova, "Belarus": belarus, "Lithuania": lithuania, "Latvia": latvia, "Estonia": estonia, "Norway": norway, "Sweden": sweden, "Finland": finland,
    "Kazakhstan": kazakhstan, "Turkmenistan": turkmenistan, "Uzbekistan": uzbekistan, "Kyrgyzstan": kyrgyzstan, "Tajikistan": tajikistan, "Afghanistan": afghanistan, "Pakistan": pakistan, "China": china, "India": india, "Nepal": nepal, "Bhutan": bhutan, "Bangladesh": bangladesh, "Sri Lanka": sri_lanka, "Taiwan": taiwan, "Mongolia": mongolia, "North Korea": north_korea, "South Korea": south_korea, "Japan": japan, "Myanmar": myanmar, "Thailand": thailand, "Laos": laos, "Vietnam": vietnam, "Cambodia": cambodia, "Malaysia": malaysia, "Indonesia": indonesia, "PNG": png, "Philippines": philippines, "Australia": australia, "New Zealand": new_zealand, "Solomon": solomon, "Vanuatu": vanuatu, "New Caledonia": new_caledonia, "Fiji": fiji, "Kerguelen": kerguelen, "Madagascar": madagascar,
    "Turkey": turkey, "Syria": syria, "Lebanon": lebanon, "Iraq": iraq, "Jordan": jordan, "Israel": israel, "Iran": iran, "Saudi": saudi, "Yemen": yemen, "Oman": oman, "UAE": uae, "Georgia": georgia, "Armenia": armenia, "Azerbaijan": azerbaijan, "Cyprus": cyprus,
    "Algeria": algeria, "Morocco": morocco, "W Sahara": w_sahara, "Tunisia": tunisia, "Libya": libya, "Egypt": egypt, "Mali": mali, "Mauritania": mauritania, "Senegal": senegal, "Gambia": gambia, "Guinea Bissau": guinea_bissau, "Guinea": guinea, "Sierra Leone": sierra_leone, "Liberia": liberia, "Ivory Coast": ivory_coast, "Ghana": ghana, "Togo": togo, "Benin": benin, "Burkina": burkina, "Niger": niger, "Nigeria": nigeria, "Cameroon": cameroon, "Chad": chad, "Sudan": sudan, "South Sudan": south_sudan, "Eritrea": eritrea, "Ethiopia": ethiopia, "Djibouti": djibouti, "Somalia": somalia, "Kenya": kenya, "Uganda": uganda, "DRC": drc, "Rwanda": rwanda, "Burundi": burundi, "Tanzania": tanzania, "Congo": congo, "Gabon": gabon, "Eq Guinea": eq_guinea, "CAR": car, "Angola": angola, "Zambia": zambia, "Malawi": malawi, "Mozambique": mozambique, "Zimbabwe": zimbabwe, "Namibia": namibia, "Botswana": botswana, "South Africa": south_africa, "Lesotho": lesotho, "Eswatini": eswatini}

# panel A
titles = ["Target population for primary immunization", "Target population for an additional dose", "Target population for a booster dose"]
letters = ["A.", "B.", "C."]
labels_a = ["Aged \u2265 2 yrs", "Aged \u2265 3 yrs", "Aged \u2265 5 yrs", "Aged \u2265 6 yrs", "Aged \u2265 10 yrs", "Aged \u2265 12 yrs", "Aged \u2265 14 yrs", "Aged \u2265 15 yrs", "Aged \u2265 16 yrs", "Aged \u2265 18 yrs", "Data unavailable"]
colors_a = ["#00441b", "#33a02c", "#a1d29d", "#08519c", "#2a7fb8", "#a6cee3", "#7f0022", "#e5604f", "#fda45f", "#fdd985", "#ffffff"]
countries_a = [
    ["Nicaragua", "Venezuela", "Cuba"],
    ["China", "Argentina"],
    ["Canada", "USA", "Iceland", "Colombia", "Ecuador", "Peru", "Brazil", "Bolivia", "Paraguay", "Uruguay", "Guyana", "French Guiana", "Costa Rica", "Panama", "Ireland", "France", "Spain", "Portugal", "Norway", "Finland", "Denmark", "Poland", "Italy", "Austria", "Hungary", "Romania", "Greece", "Belgium", "Iran", "Saudi", "Oman", "UAE", "Thailand", "Laos", "Vietnam", "Cambodia", "Malaysia", "Philippines", "Australia", "New Zealand", "Latvia", "Estonia", "Czechia", "Bulgaria", "Croatia"],
    ["Chile", "Indonesia"],
    ["Honduras"],
    ["Mexico", "Guatemala", "Belize", "El Salvador", "Dominican Rep", "Suriname", "UK", "Sweden", "Germany", "Netherlands", "Ukraine", "Belarus", "Lithuania", "Slovakia", "Serbia", "Morocco", "W Sahara", "Mauritania", "Senegal", "Libya", "Egypt", "Ethiopia", "Uganda", "Rwanda", "Cameroon", "Angola", "Zambia", "Malawi", "Namibia", "Botswana", "South Africa", "Lesotho", "Eswatini", "Turkey", "Syria", "Iraq", "Kazakhstan", "Turkmenistan", "Pakistan", "Mongolia", "Japan", "South Korea", "Bangladesh", "Myanmar", "Sri Lanka", "Guinea Bissau", "Gambia", "Guinea", "Togo", "Benin"],
    ["Zimbabwe"],
    ["India", "Nepal", "Bhutan", "Ghana", "Kenya", "Mozambique", "Albania"],
    ["Nigeria"],
    ["Russia", "Algeria", "Tunisia", "Mali", "Niger", "Chad", "Sudan", "South Sudan", "Somalia", "Eritrea", "Burkina", "Ivory Coast", "Sierra Leone", "Liberia", "CAR", "DRC", "Congo", "Gabon", "Tanzania", "Madagascar", "Yemen", "Jordan", "Uzbekistan", "Kyrgyzstan", "Tajikistan", "Afghanistan", "PNG", "Eq Guinea"],
    [],
]

# panel B
labels_b = ["People at risk of severe illness (a)", "Occupational\u2212risk populations", "a + International travellers", "a + People received other vaccines", "No consideration for an additional dose", "Data unavailable"]
colors_b = ["#fdd985", "#e5604f", "#33a02c", "#08519c", "#a6a6a6", "#ffffff"]
countries_b = [
    ["Canada", "USA", "Iceland", "Norway", "Sweden", "Finland", "Denmark", "UK", "Ireland", "France", "Spain", "Portugal", "Belgium", "Netherlands", "Germany", "Poland", "Switzerland", "Italy", "Bulgaria", "Latvia", "Lithuania", "Slovenia", "Croatia", "Honduras", "Colombia", "Ecuador", "Brazil", "Uruguay", "French Guiana", "Vietnam", "South Africa", "Lesotho", "Australia", "New Zealand"],
    ["Austria"],
    ["Pakistan"],
    ["Argentina"],
    ["Kyrgyzstan", "Laos", "Estonia"],
    [],
]

# panel C
labels_c = ["Aged \u2265 2 yrs", "Aged \u2265 12 yrs", "Aged \u2265 16 yrs", "Aged \u2265 18 yrs", "Other age groups", "Specific groups", "Aged \u2265 16 or 18 yrs + Specific groups", "Other age groups + Specific groups", "No consideration for a booster dose", "Data unavailable"]
colors_c = ["#e5604f", "#fda45f", "#fdd985", "#ffffcc", "#08519c", "#a6cee3", "#00441b", "#a1d29d", "#a6a6a6", "#ffffff"]
countries_c = [
    ["Cuba"],
    ["USA", "Colombia", "Chile", "Paraguay", "French Guiana", "Guatemala", "Costa Rica", "Iceland", "France", "Germany", "Belgium", "Netherlands", "Switzerland", "Italy", "Poland", "Czechia", "Austria", "Hungary", "Slovakia", "Slovenia", "Romania", "Serbia", "Croatia", "Egypt", "Uzbekistan", "Lithuania"],
    ["Australia", "Ireland"],
    ["Canada", "Russia", "Kazakhstan", "Mongolia", "China", "Turkmenistan", "Kyrgyzstan", "Iran", "Saudi", "Oman", "UAE", "Pakistan", "Thailand", "Vietnam", "Cambodia", "Malaysia", "Indonesia", "PNG", "South Korea", "Turkey", "Belarus", "Ukraine", "Moldova", "Norway", "Sweden", "Finland", "Denmark", "Greece", "Bulgaria", "Spain", "Portugal", "Morocco", "W Sahara", "Latvia", "Brazil", "Argentina", "Peru", "Bolivia", "Ecuador", "Uruguay", "Panama", "Guyana", "Nigeria", "Angola", "Zambia", "Namibia", "Botswana", "Zimbabwe", "South Africa", "Lesotho", "Kenya", "New Zealand", "Senegal", "Dominican Rep"],
    ["Mexico", "Sri Lanka"],
    ["Venezuela", "Mauritania", "Iraq", "Tajikistan", "India", "Bangladesh", "Laos"],
    ["UK", "Nicaragua", "Honduras", "Gambia"],
    ["Libya", "Tunisia", "Uganda", "Ghana", "Nepal", "Liberia"],
    ["Niger", "Tanzania", "Malawi", "Estonia"],
    [],
]

# pixel layout of the reference
FIG_W, FIG_H = 742, 996
EQUATOR = [201.6, 545.6, 879.0]
TITLE_Y = [8, 351, 684]
LEGEND_TOP = [231, 573, 853]
LAT_TOP, LAT_BOTTOM = 89.0, -55.5
PX_PER_DEG = 2.136

sns.set_style("white")
plt.rcParams["font.family"] = ["Liberation Sans", "DejaVu Sans"]

fig = plt.figure(figsize=(FIG_W / 100, FIG_H / 100), dpi=100)


def draw_map(ax, groups, colors):
    fill_of = {}
    for names, col in zip(groups, colors):
        for name in names:
            fill_of[name] = col
    rows = []
    ring_id = 0
    for name, rings in shapes.items():
        col = fill_of.get(name, "#ffffff")
        for ring in rings:
            ax.fill([p[0] for p in ring], [p[1] for p in ring], color=col, lw=0, zorder=1)
            for lon, lat in ring + ring[:1]:
                rows.append((ring_id, lon, lat))
            ring_id += 1
    outlines = pd.DataFrame(rows, columns=["ring", "lon", "lat"])
    sns.lineplot(data=outlines, x="lon", y="lat", units="ring", estimator=None, sort=False,
                 color="#1a1a1a", linewidth=0.5, legend=False, ax=ax, zorder=2)
    ax.set_xlim(-180, 180.5)
    ax.set_ylim(LAT_BOTTOM, LAT_TOP)
    ax.axis("off")


def add_legend(labels, colors, top_px, ncol=1):
    handles = [Patch(facecolor=c, edgecolor="#2b2b2b", linewidth=0.6, label=l) for l, c in zip(labels, colors)]
    fig.legend(handles=handles, loc="upper left", bbox_to_anchor=(10 / FIG_W, 1 - top_px / FIG_H),
               ncol=ncol, frameon=False, fontsize=6.7, borderpad=0, borderaxespad=0, handlelength=1.42,
               handleheight=1.8, labelspacing=0, handletextpad=0.54, columnspacing=0.86,
               labelcolor="#222222")


panels = [(countries_a, colors_a, labels_a, 2), (countries_b, colors_b, labels_b, 1), (countries_c, colors_c, labels_c, 1)]
for i, (groups, colors, labels, ncol) in enumerate(panels):
    top_px = EQUATOR[i] - PX_PER_DEG * LAT_TOP
    height_px = PX_PER_DEG * (LAT_TOP - LAT_BOTTOM)
    ax = fig.add_axes([0, 1 - (top_px + height_px) / FIG_H, 1, height_px / FIG_H])
    ax.patch.set_alpha(0)
    draw_map(ax, groups, colors)
    add_legend(labels, colors, LEGEND_TOP[i], ncol)
    fig.text(25 / FIG_W, 1 - TITLE_Y[i] / FIG_H, letters[i], fontsize=11.5, fontweight="bold", va="center", ha="left", color="#111111")
    fig.text(45 / FIG_W, 1 - (TITLE_Y[i] + 0.5) / FIG_H, titles[i], fontsize=7.75, fontweight="bold", va="center", ha="left", color="#111111")

fig.savefig("out.png", dpi=100, facecolor="white")
